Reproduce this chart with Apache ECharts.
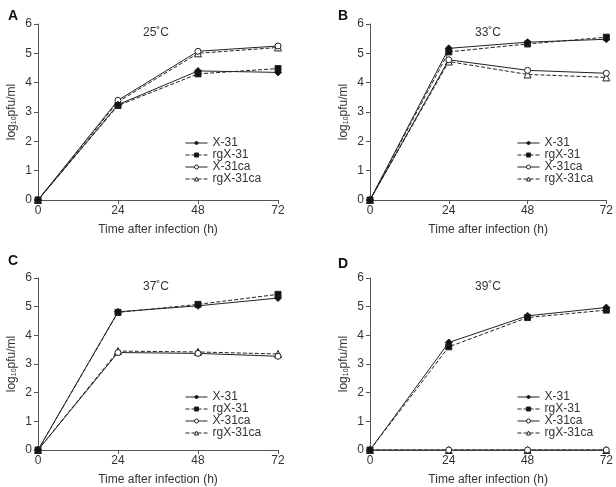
<!DOCTYPE html>
<html><head><meta charset="utf-8">
<script src="https://cdn.jsdelivr.net/npm/echarts@6/dist/echarts.min.js"></script>
<style>html,body{margin:0;padding:0;background:#fff}#c{width:616px;height:487px}</style>
</head><body><div id="c"></div>
<script>
const hours = [0, 24, 48, 72];
const seriesNames = ['X-31', 'rgX-31', 'X-31ca', 'rgX-31ca'];
const panelLetters = ['A', 'B', 'C', 'D'];
const panelTemps = ['25˚C', '33˚C', '37˚C', '39˚C'];
// values per panel
const A_X31 = [0, 3.25, 4.40, 4.35];
const A_rgX31 = [0, 3.22, 4.30, 4.48];
const A_X31ca = [0, 3.40, 5.07, 5.25];
const A_rgX31ca = [0, 3.35, 5.00, 5.20];
const B_X31 = [0, 5.17, 5.38, 5.48];
const B_rgX31 = [0, 5.05, 5.32, 5.55];
const B_X31ca = [0, 4.78, 4.42, 4.32];
const B_rgX31ca = [0, 4.72, 4.28, 4.18];
const C_X31 = [0, 4.82, 5.03, 5.30];
const C_rgX31 = [0, 4.80, 5.08, 5.43];
const C_X31ca = [0, 3.40, 3.37, 3.27];
const C_rgX31ca = [0, 3.45, 3.42, 3.35];
const D_X31 = [0, 3.75, 4.68, 4.97];
const D_rgX31 = [0, 3.60, 4.62, 4.88];
const D_X31ca = [0, 0, 0, 0];
const D_rgX31ca = [0, 0, 0, 0];
const yTicks = [0, 1, 2, 3, 4, 5, 6];

const panelData = [
  [A_X31, A_rgX31, A_X31ca, A_rgX31ca],
  [B_X31, B_rgX31, B_X31ca, B_rgX31ca],
  [C_X31, C_rgX31, C_X31ca, C_rgX31ca],
  [D_X31, D_rgX31, D_X31ca, D_rgX31ca]
];

const grids = [
  {left: 38, top: 24, width: 240, height: 176},
  {left: 370, top: 24, width: 240, height: 176},
  {left: 38, top: 278, width: 240, height: 174},
  {left: 370, top: 278, width: 240, height: 174}
];
const letterPos = [[3, 4], [333, 4], [3, 249], [333, 252]];

const styles = [
  {symbol: 'diamond', size: 7, fill: '#111', type: 'solid'},
  {symbol: 'rect', size: 6, fill: '#111', type: 'dashed'},
  {symbol: 'circle', size: 6, fill: '#fff', type: 'solid'},
  {symbol: 'triangle', size: 7, fill: '#fff', type: 'dashed'}
];

const lineCol = '#222';
const font = 'Arial, "Liberation Sans", sans-serif';

const option = {
  animation: false,
  backgroundColor: '#fff',
  grid: grids.map(g => Object.assign({containLabel: false}, g)),
  xAxis: grids.map((g, i) => ({
    type: 'value', gridIndex: i, min: 0, max: 72, interval: 24,
    name: 'Time after infection (h)', nameLocation: 'middle', nameGap: 24,
    nameTextStyle: {fontSize: 12, color: '#333', fontFamily: font},
    axisLine: {lineStyle: {color: '#555', width: 1}},
    axisTick: {show: true, length: 4, lineStyle: {color: '#555'}},
    axisLabel: {fontSize: 12, color: '#333', fontFamily: font, margin: 5},
    splitLine: {show: false}
  })),
  yAxis: grids.map((g, i) => ({
    type: 'value', gridIndex: i, min: yTicks[0], max: yTicks[yTicks.length - 1], interval: 1,
    name: '{a|log}{b|10}{a|pfu/ml}', nameLocation: 'middle', nameGap: 20,
    nameTextStyle: {rich: {a: {fontSize: 12, color: '#333', fontFamily: font}, b: {fontSize: 7, color: '#333', fontFamily: font, verticalAlign: 'bottom', padding: [6, 0, 0, 0]}}},
    axisLine: {show: true, lineStyle: {color: '#555', width: 1}},
    axisTick: {show: true, length: 4, lineStyle: {color: '#555'}},
    axisLabel: {fontSize: 12, color: '#333', fontFamily: font, margin: 6},
    splitLine: {show: false}
  })),
  legend: grids.map((g, i) => ({
    data: seriesNames.map(n => ({name: n})),
    orient: 'vertical',
    left: g.left + 142, top: g.top + 108,
    itemWidth: 22, itemHeight: 5, itemGap: 0,
    lineStyle: {width: 1, type: 'inherit', color: lineCol},
    itemStyle: {borderWidth: 1},
    textStyle: {fontSize: 12, lineHeight: 12, color: '#333', fontFamily: font},
    selectedMode: false
  })),
  title: panelTemps.map((t, i) => ({
    text: t, left: grids[i].left + 100, top: grids[i].top - 2,
    textStyle: {fontSize: 12, fontWeight: 'normal', color: '#333', fontFamily: font}
  })).concat(panelLetters.map((l, i) => ({
    text: l, left: letterPos[i][0], top: letterPos[i][1],
    textStyle: {fontSize: 14, fontWeight: 'bold', color: '#111', fontFamily: font}
  }))),
  series: []
};

panelData.forEach((arrs, p) => {
  arrs.forEach((vals, k) => {
    const s = styles[k];
    option.series.push({
      type: 'line', name: seriesNames[k], xAxisIndex: p, yAxisIndex: p,
      data: hours.map((h, j) => [h, vals[j]]),
      symbol: s.symbol, symbolSize: s.size, showSymbol: true,
      lineStyle: {color: lineCol, width: 1, type: s.type},
      itemStyle: {color: s.fill, borderColor: lineCol, borderWidth: 1},
      z: 10 - k
    });
  });
});

const chart = echarts.init(document.getElementById('c'), null, {renderer: 'canvas'});
chart.setOption(option);
</script>
</body></html>
